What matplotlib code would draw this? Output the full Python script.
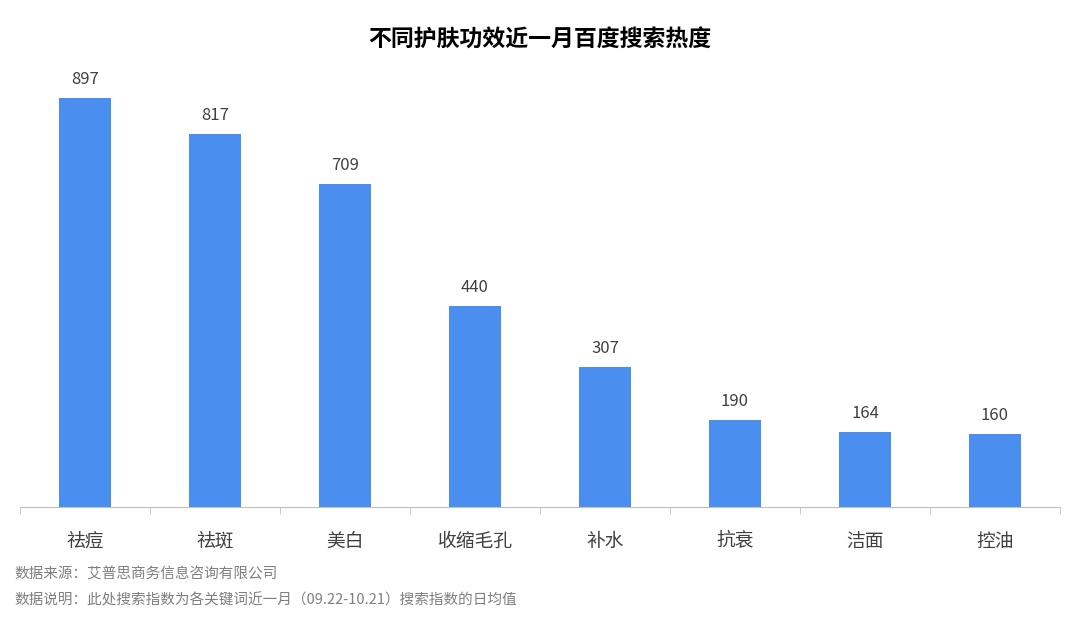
import matplotlib
matplotlib.use('Agg')
import matplotlib.pyplot as plt
import numpy as np

plt.rcParams['font.family'] = ['Noto Sans CJK SC', 'DejaVu Sans']

categories = ['祛痘', '祛斑', '美白', '收缩毛孔', '补水', '抗衰', '洁面', '控油']
values = [897, 817, 709, 440, 307, 190, 164, 160]

fig = plt.figure(figsize=(10.8, 6.19), dpi=100)
ax = fig.add_axes([20/1080, 112/619, 1040/1080, 456/619])
x = np.arange(len(categories))
ax.bar(x, values, width=0.4, color='#4a8ff0')
for xi, v in zip(x, values):
    ax.text(xi, v + 22, str(v), ha='center', va='bottom', fontsize=12, color='#404040')

ax.set_xlim(-0.5, len(categories) - 0.5)
ax.set_ylim(0, 1000)
ax.set_yticks([])
for s in ['top', 'right', 'left']:
    ax.spines[s].set_visible(False)
ax.spines['bottom'].set_color('#bfbfbf')
ax.set_xticks(x)
ax.set_xticklabels(categories, fontsize=13.5, color='#404040')
ax.tick_params(axis='x', length=0, pad=17)
ax.set_xticks(np.arange(-0.5, len(categories)), minor=True)
ax.tick_params(axis='x', which='minor', length=5, color='#bfbfbf')

fig.text(0.5, 1 - 40/619, '不同护肤功效近一月百度搜索热度', ha='center', va='center',
         fontsize=16.5, fontweight='bold', color='black')
fig.text(14/1080, 1 - 575/619, '数据来源：艾普思商务信息咨询有限公司', fontsize=10.5,
         color='#7f7f7f', va='center')
fig.text(14/1080, 1 - 600/619, '数据说明：此处搜索指数为各关键词近一月（09.22-10.21）搜索指数的日均值',
         fontsize=10.5, color='#7f7f7f', va='center')

fig.savefig('out.png', dpi=100)
